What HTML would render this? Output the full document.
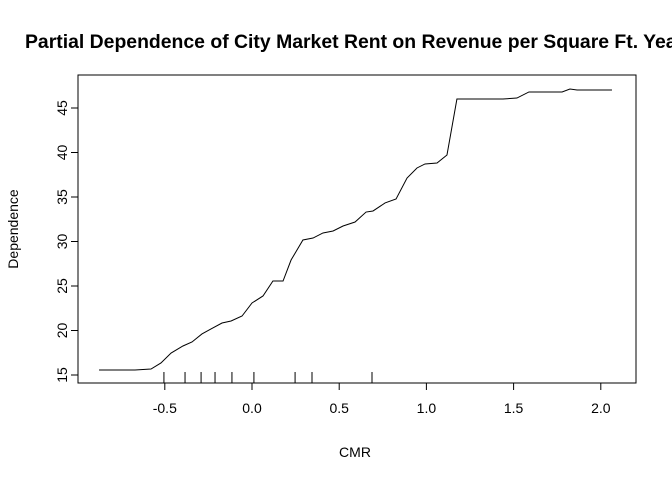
<!DOCTYPE html>
<html><head><meta charset="utf-8"><style>
body{margin:0;background:#fff;overflow:hidden;}
svg text{font-family:"Liberation Sans",Arial,sans-serif;fill:#000;}
</style></head><body>
<svg id="chart" width="672" height="480" xmlns="http://www.w3.org/2000/svg">
<text x="25" y="48" font-size="19.4" font-weight="bold">Partial Dependence of City Market Rent on Revenue per Square Ft. Year 1</text>
<rect x="78" y="75" width="558" height="308" fill="none" stroke="#000"/>
<text x="355" y="457" font-size="14" text-anchor="middle">CMR</text>
<text transform="translate(18,229) rotate(-90)" font-size="14" text-anchor="middle">Dependence</text>
<g id="axes"></g>
<g id="rug"></g>
<polyline id="line" fill="none" stroke="#000" stroke-width="1"/>
</svg>
<script>
const xs=[-0.877,-0.671,-0.579,-0.522,-0.464,-0.396,-0.344,-0.287,-0.235,-0.172,-0.120,-0.057,0,0.063,0.120,0.178,0.224,0.292,0.350,0.407,0.465,0.522,0.591,0.654,0.694,0.763,0.826,0.889,0.946,0.992,1.061,1.118,1.175,1.439,1.519,1.588,1.778,1.823,1.864,2.064];
const ys=[15.56,15.56,15.67,16.35,17.47,18.26,18.71,19.61,20.17,20.84,21.07,21.63,23.09,23.88,25.56,25.56,27.92,30.17,30.39,30.96,31.18,31.74,32.19,33.31,33.43,34.33,34.78,37.13,38.26,38.71,38.82,39.72,46.01,46.01,46.12,46.80,46.80,47.13,47.02,47.02];
const rugX=[-0.505,-0.384,-0.292,-0.212,-0.115,0.011,0.247,0.344,0.688];
const xTicks=[-0.5,0,0.5,1,1.5,2];
const xTickLabels=["-0.5","0.0","0.5","1.0","1.5","2.0"];
const yTicks=[15,20,25,30,35,40,45];
const X=v=>252+174.4*v, Y=d=>375-8.9*(d-15);
const NS="http://www.w3.org/2000/svg";
const ax=document.getElementById('axes'), rug=document.getElementById('rug');
function mk(tag,attrs,parent){const e=document.createElementNS(NS,tag);for(const k in attrs)e.setAttribute(k,attrs[k]);parent.appendChild(e);return e;}
mk('line',{x1:X(xTicks[0]),x2:X(xTicks[xTicks.length-1]),y1:383,y2:383,stroke:'#000'},ax);
xTicks.forEach((t,i)=>{
 const l=mk('line',{x1:X(t),x2:X(t),y1:383,y2:390,stroke:'#000'},ax);
 
 
 const tx=mk('text',{x:X(t),y:413,'font-size':14,'text-anchor':'middle'},ax);tx.textContent=xTickLabels[i];
 
 
});
mk('line',{x1:78,x2:78,y1:Y(yTicks[0]),y2:Y(yTicks[yTicks.length-1]),stroke:'#000'},ax);
yTicks.forEach(t=>{
 const l=mk('line',{x1:71,x2:78,y1:Y(t),y2:Y(t),stroke:'#000'},ax);
 
 
 const tx=mk('text',{transform:`translate(67,${Y(t)}) rotate(-90)`,'font-size':14,'text-anchor':'middle'},ax);tx.textContent=String(t);
 
 
});
rugX.forEach(v=>{
 const l=mk('line',{x1:X(v),x2:X(v),y1:372,y2:383,stroke:'#000'},rug);
 
 
});
document.getElementById('line').setAttribute('points',xs.map((v,i)=>X(v)+','+Y(ys[i])).join(' '));
</script>
</body></html>
